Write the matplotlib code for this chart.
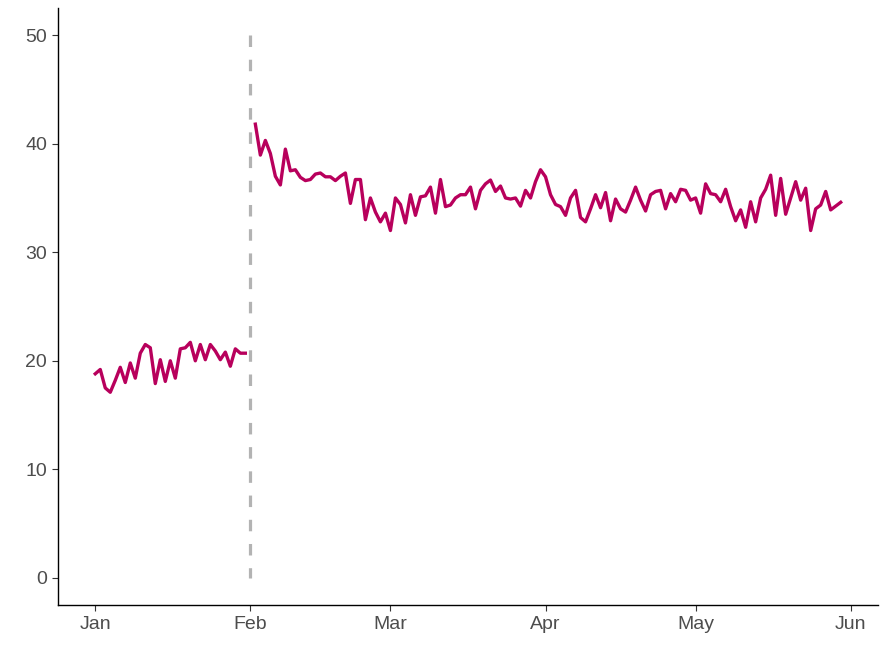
import matplotlib
matplotlib.use("Agg")
import matplotlib.pyplot as plt
import matplotlib.dates as mdates
import pandas as pd

plt.rcParams['font.family'] = ['Liberation Sans', 'DejaVu Sans']

# daily values, Jan 1 - Jan 31 (before the break)
jan_values = [18.8, 19.2, 17.5, 17.1, 18.2, 19.4, 18.0, 19.8, 18.4, 20.7,
              21.5, 21.2, 17.9, 20.1, 18.1, 20.0, 18.4, 21.1, 21.2, 21.7,
              20.0, 21.5, 20.1, 21.5, 20.9, 20.1, 20.8, 19.5, 21.1, 20.7,
              20.7]

# daily values, Feb 2 - May 30 (after the break)
later_values = [41.8, 38.95, 40.3, 39.1, 37.0, 36.2, 39.5, 37.5, 37.6, 36.9,
                36.6, 36.7, 37.2, 37.3, 36.95, 36.95, 36.6, 37.0, 37.3, 34.5,
                36.7, 36.7, 33.0, 35.0, 33.7, 32.8, 33.6, 32.0, 35.0,
                34.4, 32.7, 35.3, 33.4, 35.1, 35.2, 36.0, 33.6, 36.7, 34.2,
                34.35, 35.0, 35.3, 35.3, 36.0, 34.0, 35.7, 36.3, 36.65, 35.6,
                36.1, 35.0, 34.9, 35.0, 34.25, 35.7, 35.0, 36.5,
                37.6, 36.95, 35.3, 34.4, 34.2, 33.4, 35.0, 35.7, 33.2, 32.8,
                34.0, 35.3, 34.1, 35.5, 32.9, 34.9, 34.0, 33.7, 34.8, 36.0,
                34.8, 33.8, 35.3, 35.6, 35.7, 34.0, 35.4, 34.65, 35.8, 35.7,
                34.8, 35.0, 33.6, 36.3,
                35.4, 35.3, 34.65, 35.8, 34.2, 32.9, 33.9, 32.3, 34.65, 32.8,
                35.0, 35.8, 37.1, 33.4, 36.8, 33.5, 35.0, 36.5, 34.8, 35.9,
                32.0, 34.0, 34.35, 35.6, 33.9, 34.25, 34.6]

jan_dates = pd.date_range("2021-01-01", periods=len(jan_values), freq="D")
later_dates = pd.date_range("2021-02-02", periods=len(later_values), freq="D")
break_date = pd.Timestamp("2021-02-01")
break_range = [50, 0]

line_color = "#B8005C"

fig = plt.figure(figsize=(8.88, 6.56), dpi=100)
ax = fig.add_axes([0.0653, 0.0777, 0.9234, 0.9101])

ax.plot([break_date, break_date], break_range, color="#B3B3B3", lw=2.3,
        dashes=(3.6, 3.98), zorder=1)
ax.plot(jan_dates, jan_values, color=line_color, lw=2.4, zorder=2)
ax.plot(later_dates, later_values, color=line_color, lw=2.4, zorder=2)

# ggplot-style 5% expansion
first, last = jan_dates[0], later_dates[-1]
pad = (last - first) * 0.05
ax.set_xlim(first - pad, last + pad)
ax.set_ylim(-2.5, 52.5)

ax.xaxis.set_major_locator(mdates.MonthLocator())
ax.xaxis.set_major_formatter(mdates.DateFormatter("%b"))
ax.set_yticks([0, 10, 20, 30, 40, 50])

for s in ["top", "right"]:
    ax.spines[s].set_visible(False)
for s in ["left", "bottom"]:
    ax.spines[s].set_color("black")
    ax.spines[s].set_linewidth(1.0)

ax.tick_params(axis="both", colors="#333333", length=4, width=0.8,
               labelsize=14, labelcolor="#4D4D4D", pad=4)

fig.savefig("out.png", dpi=100)
